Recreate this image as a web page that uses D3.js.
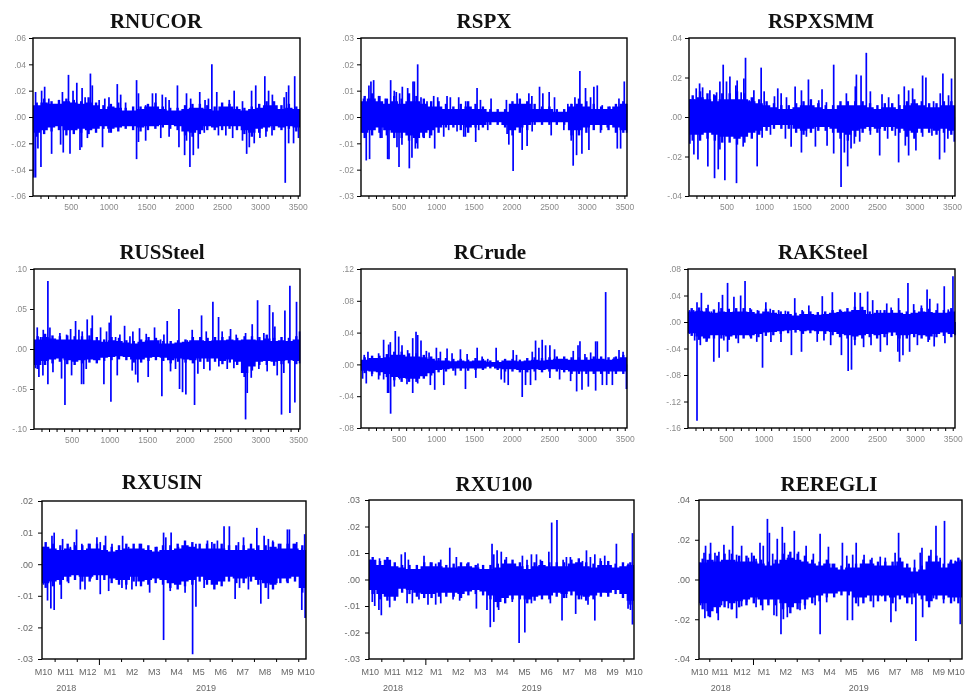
<!doctype html>
<html lang="en">
<head>
<meta charset="utf-8">
<title>Return series</title>
<script src="https://cdn.jsdelivr.net/npm/d3@7"></script>
<style>
html, body { margin: 0; background: #fff; }
svg { display: block; filter: blur(0.6px); }
.title { font: bold 21px "Liberation Serif", serif; fill: #111; text-anchor: middle; }
.axis text { font-family: "Liberation Sans", Arial, sans-serif; }
.axis path, .axis line { stroke: #000; }
</style>
</head>
<body>
<svg id="chart" width="967" height="693"></svg>
<script>
// series order, left to right and top to bottom
var titles = ["RNUCOR", "RSPX", "RSPXSMM", "RUSSteel", "RCrude", "RAKSteel", "RXUSIN", "RXU100", "REREGLI"];
var yTicks = [
  [.06, .04, .02, 0, -.02, -.04, -.06],
  [.03, .02, .01, 0, -.01, -.02, -.03],
  [.04, .02, 0, -.02, -.04],
  [.10, .05, 0, -.05, -.10],
  [.12, .08, .04, 0, -.04, -.08],
  [.08, .04, 0, -.04, -.08, -.12, -.16],
  [.02, .01, 0, -.01, -.02, -.03],
  [.03, .02, .01, 0, -.01, -.02, -.03],
  [.04, .02, 0, -.02, -.04]
];
var obsTicks = [100, 200, 300, 400, 500, 600, 700, 800, 900, 1000, 1100, 1200, 1300, 1400, 1500, 1600, 1700, 1800, 1900, 2000, 2100, 2200, 2300, 2400, 2500, 2600, 2700, 2800, 2900, 3000, 3100, 3200, 3300, 3400, 3500];
var monthTicks = [1, 2, 3, 4, 5, 6, 7, 8, 9, 10, 11, 12];
var monthLabels = ["M10", "M11", "M12", "M1", "M2", "M3", "M4", "M5", "M6", "M7", "M8", "M9", "M10"];
var yearLabels = ["2018", "2019"];
var yearAt = [1.53, 7.84];

// core of each series: upper and lower edge, evenly along the x range
var nucorHi = [.009,.011,.010,.010,.012,.011,.010,.011,.009,.006,.008,.007,.005,.005,.006,.008,.008,.006,.005,.005,.006,.007,.007,.006,.005,.008,.008,.006,.005,.006,.007,.009,.009,.006,.007,.006];
var nucorLo = [-.012,-.010,-.008,-.007,-.010,-.010,-.009,-.010,-.009,-.007,-.009,-.008,-.007,-.007,-.008,-.007,-.007,-.006,-.006,-.007,-.011,-.012,-.010,-.007,-.008,-.007,-.007,-.007,-.010,-.012,-.009,-.008,-.007,-.008,-.007,-.008];
var spxHi = [.006,.007,.006,.005,.006,.005,.006,.006,.005,.004,.004,.003,.003,.003,.004,.003,.003,.002,.002,.002,.005,.005,.005,.003,.003,.003,.002,.002,.004,.005,.004,.003,.003,.003,.004,.005];
var spxLo = [-.006,-.005,-.004,-.005,-.006,-.006,-.007,-.008,-.006,-.005,-.004,-.003,-.003,-.003,-.004,-.003,-.003,-.002,-.002,-.003,-.005,-.004,-.003,-.002,-.002,-.002,-.002,-.002,-.005,-.005,-.004,-.003,-.003,-.003,-.004,-.005];
var smmHi = [.009,.010,.009,.008,.009,.009,.009,.009,.008,.007,.006,.005,.004,.004,.005,.006,.006,.005,.004,.004,.006,.006,.006,.006,.005,.004,.005,.005,.004,.006,.007,.006,.005,.005,.006,.006];
var smmLo = [-.009,-.009,-.008,-.009,-.010,-.010,-.011,-.010,-.008,-.007,-.005,-.004,-.004,-.004,-.006,-.007,-.006,-.005,-.005,-.006,-.008,-.009,-.007,-.006,-.005,-.006,-.005,-.005,-.006,-.007,-.008,-.006,-.006,-.007,-.006,-.007];
var ussHi = [.012,.015,.013,.012,.012,.012,.012,.012,.011,.009,.011,.010,.008,.007,.009,.011,.011,.007,.007,.008,.009,.011,.011,.010,.011,.011,.012,.011,.012,.012,.011,.013,.010,.011,.010,.012];
var ussLo = [-.020,-.015,-.013,-.012,-.014,-.016,-.014,-.013,-.014,-.011,-.010,-.009,-.010,-.013,-.013,-.011,-.010,-.011,-.014,-.012,-.013,-.014,-.012,-.012,-.012,-.015,-.013,-.016,-.030,-.022,-.016,-.015,-.016,-.015,-.014,-.015];
var crudeHi = [.006,.008,.008,.009,.012,.012,.010,.010,.009,.007,.005,.005,.004,.005,.004,.005,.005,.003,.003,.005,.005,.004,.005,.006,.005,.006,.007,.007,.006,.006,.006,.007,.007,.006,.007,.009];
var crudeLo = [-.008,-.009,-.010,-.012,-.016,-.017,-.018,-.018,-.015,-.011,-.007,-.006,-.005,-.005,-.005,-.005,-.005,-.003,-.005,-.006,-.006,-.007,-.007,-.006,-.007,-.006,-.006,-.007,-.009,-.009,-.009,-.009,-.009,-.009,-.009,-.009];
var akHi = [.016,.017,.016,.014,.016,.015,.016,.016,.015,.013,.016,.014,.012,.012,.010,.012,.012,.011,.012,.014,.015,.016,.018,.018,.012,.014,.014,.014,.014,.012,.014,.016,.015,.014,.014,.016];
var akLo = [-.017,-.022,-.025,-.020,-.020,-.022,-.020,-.020,-.020,-.018,-.016,-.015,-.014,-.013,-.012,-.014,-.013,-.014,-.014,-.015,-.018,-.020,-.022,-.020,-.018,-.020,-.018,-.016,-.020,-.020,-.018,-.020,-.022,-.018,-.016,-.018];
var usinHi = [.0055,.005,.0045,.005,.0045,.0045,.005,.005,.0045,.004,.0045,.005,.005,.005,.0045,.004,.0045,.0045,.005,.006,.0055,.005,.005,.005,.005,.0045,.0045,.0045,.005,.0045,.0045,.0055,.005,.005,.005,.0045];
var usinLo = [-.006,-.0055,-.005,-.004,-.0035,-.004,-.004,-.0035,-.0035,-.0045,-.005,-.005,-.004,-.0055,-.005,-.0045,-.005,-.006,-.0065,-.0055,-.005,-.004,-.005,-.0065,-.0055,-.004,-.0045,-.0045,-.004,-.005,-.006,-.0065,-.0045,-.0045,-.004,-.0075];
var xuHi = [.0075,.0055,.0075,.005,.0045,.004,.004,.005,.005,.005,.0045,.0045,.005,.005,.0045,.004,.004,.0045,.006,.006,.005,.004,.005,.0055,.005,.005,.005,.006,.0065,.005,.0045,.0055,.0055,.0045,.005,.0055];
var xuLo = [-.004,-.0055,-.0065,-.0065,-.0035,-.004,-.005,-.0055,-.0055,-.005,-.005,-.005,-.0055,-.0045,-.004,-.0045,-.006,-.0085,-.007,-.006,-.006,-.0075,-.0065,-.006,-.006,-.005,-.0055,-.0045,-.006,-.0065,-.006,-.005,-.005,-.004,-.0055,-.008];
var ereHi = [.0085,.010,.009,.010,.010,.009,.009,.009,.008,.007,.008,.010,.011,.010,.009,.008,.007,.008,.006,.005,.006,.006,.008,.008,.007,.007,.007,.009,.006,.004,.005,.009,.009,.006,.008,.009];
var ereLo = [-.012,-.016,-.014,-.011,-.012,-.011,-.010,-.009,-.010,-.010,-.010,-.012,-.014,-.012,-.010,-.009,-.008,-.007,-.007,-.006,-.006,-.009,-.009,-.008,-.008,-.008,-.009,-.008,-.009,-.007,-.008,-.011,-.008,-.008,-.009,-.009];

// small teeth just outside the core, one between each pair of core steps
var nucorTeethUp = [.011,.014,.012,.013,.014,.013,.012,.015,.011,.009,.010,.011,.007,.008,.008,.010,.011,.008,.007,.007,.009,.010,.010,.009,.008,.011,.010,.008,.007,.008,.010,.012,.012,.009,.010,.008];
var nucorTeethDn = [-.015,-.013,-.011,-.010,-.014,-.013,-.012,-.013,-.012,-.009,-.012,-.011,-.009,-.010,-.011,-.010,-.009,-.008,-.009,-.010,-.014,-.015,-.013,-.010,-.010,-.010,-.009,-.010,-.013,-.015,-.012,-.011,-.010,-.010,-.009,-.011];
var spxTeethUp = [.008,.009,.008,.007,.008,.007,.009,.008,.007,.006,.006,.005,.004,.005,.006,.005,.004,.003,.003,.003,.006,.007,.006,.005,.004,.004,.003,.003,.005,.007,.006,.005,.004,.004,.005,.006];
var spxTeethDn = [-.008,-.007,-.006,-.007,-.008,-.008,-.009,-.010,-.008,-.007,-.006,-.004,-.004,-.005,-.006,-.004,-.004,-.003,-.003,-.004,-.007,-.006,-.005,-.003,-.003,-.003,-.003,-.003,-.007,-.007,-.006,-.005,-.005,-.005,-.006,-.006];
var smmTeethUp = [.011,.013,.012,.011,.012,.012,.013,.012,.010,.009,.008,.007,.006,.006,.007,.008,.009,.007,.006,.006,.008,.008,.008,.008,.007,.006,.007,.007,.006,.008,.009,.008,.007,.007,.008,.008];
var smmTeethDn = [-.012,-.012,-.011,-.012,-.013,-.013,-.014,-.013,-.011,-.009,-.007,-.006,-.006,-.006,-.008,-.009,-.008,-.007,-.007,-.008,-.011,-.012,-.010,-.008,-.007,-.008,-.007,-.007,-.008,-.010,-.011,-.008,-.008,-.009,-.008,-.009];
var ussTeethUp = [.016,.019,.017,.016,.017,.016,.016,.017,.015,.012,.015,.014,.011,.010,.012,.015,.014,.010,.010,.011,.012,.015,.015,.014,.015,.015,.016,.014,.016,.016,.015,.018,.014,.015,.014,.016];
var ussTeethDn = [-.025,-.020,-.018,-.016,-.019,-.020,-.018,-.017,-.018,-.015,-.014,-.013,-.014,-.017,-.017,-.015,-.014,-.015,-.018,-.016,-.017,-.018,-.016,-.016,-.016,-.019,-.017,-.020,-.035,-.027,-.020,-.020,-.021,-.019,-.018,-.019];
var crudeTeethUp = [.009,.011,.011,.013,.016,.016,.014,.014,.012,.010,.008,.008,.007,.007,.006,.008,.007,.005,.005,.007,.007,.006,.008,.009,.008,.009,.010,.010,.009,.009,.009,.010,.010,.009,.010,.012];
var crudeTeethDn = [-.011,-.012,-.014,-.016,-.020,-.022,-.022,-.022,-.018,-.014,-.010,-.009,-.008,-.008,-.008,-.007,-.007,-.005,-.007,-.009,-.009,-.010,-.010,-.009,-.010,-.009,-.009,-.010,-.012,-.012,-.012,-.012,-.012,-.012,-.012,-.012];
var akTeethUp = [.021,.022,.021,.019,.021,.020,.021,.021,.019,.017,.020,.018,.016,.016,.014,.016,.016,.015,.016,.018,.019,.021,.023,.023,.016,.018,.018,.018,.018,.016,.018,.021,.020,.018,.018,.021];
var akTeethDn = [-.021,-.027,-.030,-.025,-.025,-.027,-.025,-.025,-.025,-.023,-.021,-.020,-.018,-.017,-.016,-.018,-.017,-.018,-.018,-.020,-.023,-.025,-.027,-.025,-.023,-.025,-.023,-.021,-.025,-.025,-.023,-.025,-.027,-.023,-.021,-.023];
var usinTeethUp = [.007,.0065,.006,.0065,.006,.006,.0065,.0065,.006,.0055,.006,.0065,.0065,.0065,.006,.0055,.006,.006,.0065,.0075,.007,.0065,.0065,.0065,.0065,.006,.006,.006,.0065,.006,.006,.007,.0065,.0065,.0065,.006];
var usinTeethDn = [-.0075,-.007,-.0065,-.0055,-.005,-.0055,-.0055,-.005,-.005,-.006,-.0065,-.0065,-.0055,-.007,-.0065,-.006,-.0065,-.0075,-.008,-.007,-.0065,-.0055,-.0065,-.008,-.007,-.0055,-.006,-.006,-.0055,-.0065,-.0075,-.008,-.006,-.006,-.0055,-.009];
var xuTeethUp = [.0085,.007,.0085,.0065,.0055,.0055,.0055,.0065,.0065,.0065,.0055,.006,.0065,.0065,.0055,.0055,.0055,.006,.0075,.0075,.0065,.0055,.0065,.007,.0065,.0065,.0065,.0075,.008,.0065,.006,.007,.007,.006,.0065,.0065];
var xuTeethDn = [-.0055,-.0075,-.008,-.008,-.005,-.0055,-.0065,-.007,-.007,-.0065,-.0065,-.0065,-.007,-.006,-.0055,-.006,-.0075,-.0105,-.009,-.0075,-.0075,-.009,-.008,-.0075,-.0075,-.0065,-.007,-.006,-.0075,-.008,-.0075,-.0065,-.0065,-.0055,-.007,-.0095];
var ereTeethUp = [.0105,.013,.012,.013,.013,.012,.012,.012,.010,.009,.010,.013,.014,.013,.012,.010,.009,.010,.008,.007,.008,.008,.010,.010,.009,.009,.009,.011,.008,.006,.007,.012,.012,.008,.010,.011];
var ereTeethDn = [-.015,-.019,-.017,-.014,-.015,-.014,-.013,-.012,-.013,-.013,-.013,-.015,-.017,-.015,-.013,-.012,-.011,-.009,-.009,-.008,-.008,-.012,-.012,-.011,-.011,-.011,-.012,-.010,-.012,-.009,-.010,-.014,-.010,-.010,-.012,-.012];

// spikes: position, then value
var nucorUpX = [35,115,155,210,390,470,530,580,650,690,760,785,875,950,1005,1115,1160,1225,1370,1395,1490,1580,1625,1710,1755,1800,1910,2030,2085,2205,2275,2320,2365,2430,2595,2660,2770,2890,2945,3065,3115,3165,3320,3350,3380,3460];
var nucorUpY = [.019,.020,.023,.014,.019,.032,.020,.026,.022,.015,.033,.024,.013,.014,.015,.025,.017,.011,.028,.018,.009,.018,.018,.017,.015,.013,.024,.018,.014,.019,.013,.014,.040,.019,.013,.020,.012,.020,.024,.031,.020,.017,.015,.019,.024,.031];
var nucorDnX = [12,35,66,106,247,366,401,490,622,644,720,920,1005,1370,1395,1490,1690,1800,1930,2005,2030,2075,2120,2185,2265,2452,2550,2640,2770,2825,2860,2925,3000,3080,3160,3335,3380,3445,3510];
var nucorDnY = [-.046,-.046,-.024,-.038,-.028,-.021,-.027,-.028,-.025,-.023,-.016,-.023,-.012,-.032,-.019,-.018,-.016,-.015,-.023,-.029,-.018,-.038,-.029,-.024,-.012,-.014,-.014,-.016,-.018,-.028,-.023,-.020,-.016,-.015,-.014,-.050,-.020,-.020,-.016];
var spxUpX = [35,89,106,133,169,235,324,395,443,470,514,550,621,692,710,754,798,878,967,1020,1144,1188,1299,1392,1543,1588,1729,1933,2075,2231,2271,2373,2417,2501,2572,2749,2794,2843,2909,2984,3051,3095,3140,3206,3308,3428,3499,3530];
var spxUpY = [.007,.007,.012,.0135,.014,.008,.007,.014,.010,.0095,.009,.0115,.011,.0135,.0135,.020,.0075,.006,.008,.0075,.008,.0075,.0075,.006,.011,.0065,.007,.0065,.009,.009,.008,.0115,.009,.0095,.0075,.005,.005,.0075,.0175,.011,.0075,.0115,.012,.0045,.004,.007,.0135,.005];
var spxDnX = [27,71,115,257,279,355,373,479,506,545,643,678,723,754,825,914,980,1100,1166,1277,1366,1388,1525,1565,1685,1942,1965,2022,2142,2208,2275,2528,2696,2794,2820,2865,2936,3029,3184,3273,3406,3450,3530];
var spxDnY = [-.006,-.0165,-.016,-.008,-.008,-.016,-.016,-.0115,-.019,-.0105,-.0195,-.0155,-.012,-.012,-.0075,-.008,-.012,-.0075,-.005,-.0055,-.0075,-.0075,-.0095,-.005,-.005,-.0065,-.0105,-.0205,-.0125,-.011,-.0055,-.007,-.005,-.009,-.0185,-.0145,-.014,-.0125,-.006,-.004,-.012,-.012,-.006];
var smmUpX = [22,66,97,142,182,279,332,368,412,456,500,545,624,642,695,731,753,802,864,961,1001,1138,1182,1227,1298,1413,1497,1590,1727,1771,1829,1926,2095,2214,2228,2290,2360,2414,2569,2657,2790,2865,2923,2976,3109,3153,3255,3344,3379,3454,3494];
var smmUpY = [.009,.009,.0145,.017,.015,.0135,.0115,.0125,.018,.0265,.018,.0205,.016,.0185,.0125,.0195,.030,.0085,.0135,.025,.013,.0105,.0145,.012,.010,.0155,.0135,.019,.0085,.014,.0075,.0265,.012,.0155,.0215,.021,.0325,.013,.0115,.010,.0115,.0155,.0135,.0145,.021,.020,.008,.012,.022,.011,.0195];
var smmDnX = [13,66,120,252,341,390,412,478,633,722,908,974,1085,1284,1360,1497,1563,1683,1838,1926,2024,2068,2112,2157,2201,2272,2414,2538,2644,2746,2790,2879,2923,3020,3109,3233,3335,3401,3445,3530];
var smmDnY = [-.0135,-.019,-.0215,-.025,-.031,-.0265,-.0165,-.032,-.0335,-.015,-.025,-.0105,-.009,-.011,-.015,-.018,-.010,-.015,-.0145,-.0185,-.0355,-.018,-.025,-.016,-.0135,-.0125,-.009,-.0195,-.011,-.0095,-.023,-.0145,-.0195,-.017,-.010,-.0095,-.0215,-.018,-.011,-.0125];
var ussUpX = [44,88,124,185,212,344,433,486,552,596,640,706,759,773,883,962,998,1020,1082,1139,1201,1272,1311,1399,1488,1598,1678,1722,1766,1921,2031,2097,2221,2283,2371,2446,2494,2605,2680,2804,2892,2963,3046,3121,3166,3192,3325,3391,3479,3519];
var ussUpY = [.027,.015,.024,.085,.027,.020,.018,.025,.035,.024,.022,.037,.026,.042,.027,.022,.033,.042,.015,.018,.029,.016,.022,.026,.019,.027,.012,.018,.035,.050,.011,.024,.042,.022,.059,.040,.022,.025,.018,.020,.031,.061,.020,.055,.046,.028,.048,.079,.059,.022];
var ussDnX = [22,66,119,185,252,366,411,499,631,658,693,927,1020,1104,1302,1347,1377,1514,1695,1810,1876,1929,1969,2013,2128,2172,2252,2331,2450,2561,2649,2781,2804,2826,2879,2980,3090,3223,3280,3311,3391,3457,3519];
var ussDnY = [-.024,-.035,-.033,-.044,-.029,-.037,-.070,-.033,-.044,-.044,-.025,-.044,-.066,-.033,-.027,-.032,-.042,-.035,-.059,-.028,-.025,-.050,-.054,-.057,-.070,-.031,-.025,-.027,-.022,-.025,-.024,-.030,-.088,-.055,-.036,-.025,-.028,-.033,-.082,-.030,-.080,-.067,-.018];
var crudeUpX = [44,93,146,235,301,368,390,456,501,545,620,687,731,753,797,868,904,1001,1054,1143,1209,1320,1409,1542,1608,1683,1794,2020,2064,2273,2317,2361,2405,2450,2507,2569,2817,2880,2906,2972,3048,3114,3136,3247,3358,3424,3478];
var crudeUpY = [.012,.016,.007,.014,.031,.025,.028,.042,.035,.024,.018,.033,.041,.037,.030,.017,.015,.021,.016,.020,.014,.019,.013,.021,.010,.007,.021,.018,.012,.016,.030,.021,.031,.024,.024,.019,.017,.024,.029,.013,.015,.029,.029,.091,.009,.018,.016];
var crudeDnX = [22,71,146,235,301,354,368,394,443,514,611,687,753,921,979,1099,1254,1387,1524,1861,1905,1954,2140,2184,2250,2317,2507,2636,2782,2862,2933,3017,3114,3203,3260,3336,3522];
var crudeDnY = [-.018,-.024,-.015,-.019,-.019,-.036,-.036,-.062,-.028,-.019,-.025,-.036,-.024,-.026,-.032,-.026,-.014,-.031,-.017,-.019,-.023,-.026,-.041,-.026,-.026,-.020,-.017,-.019,-.021,-.034,-.032,-.028,-.033,-.026,-.026,-.026,-.031];
var akUpX = [22,75,120,178,266,311,408,457,524,608,697,755,821,919,1030,1088,1199,1288,1412,1510,1598,1776,1909,2029,2207,2278,2375,2442,2544,2628,2686,2784,2908,2984,3086,3161,3197,3299,3388,3441,3503];
var akUpY = [.018,.018,.030,.044,.026,.016,.030,.041,.059,.038,.040,.062,.021,.018,.030,.020,.018,.017,.036,.018,.025,.039,.045,.017,.045,.044,.046,.033,.018,.028,.022,.036,.059,.027,.025,.049,.035,.028,.054,.019,.069];
var akDnX = [22,89,120,164,253,342,413,475,524,666,821,910,986,1097,1230,1368,1501,1709,1798,1887,2029,2118,2162,2207,2322,2420,2544,2633,2775,2797,2842,2930,3033,3175,3255,3397,3530];
var akDnY = [-.018,-.028,-.149,-.035,-.028,-.060,-.054,-.028,-.045,-.032,-.022,-.030,-.069,-.030,-.030,-.050,-.045,-.030,-.028,-.035,-.050,-.074,-.072,-.035,-.038,-.035,-.045,-.035,-.045,-.060,-.050,-.045,-.035,-.030,-.037,-.032,-.020];
var usinUpX = [.50,.88,.98,1.36,1.71,1.89,1.99,2.23,2.53,2.91,3.06,3.30,3.59,4.07,4.34,4.83,5.17,5.62,5.92,6.02,6.26,6.59,7.05,7.38,7.90,8.10,8.35,8.65,8.89,9.30,9.53,10.13,10.46,10.65,10.85,11.11,11.51,11.60,11.78,11.93,12.16,12.29];
var usinUpY = [.0055,.009,.010,.008,.0055,.007,.011,.0065,.0065,.0085,.007,.009,.0065,.009,.0055,.0065,.004,.0055,.010,.0085,.010,.0055,.0055,.0065,.0075,.007,.0075,.012,.012,.007,.0085,.0115,.009,.008,.0075,.0065,.011,.011,.0065,.007,.005,.0095];
var usinDnX = [.50,.68,.83,.98,1.30,1.63,2.16,2.37,2.64,3.06,3.44,4.04,4.23,4.49,4.68,5.29,5.92,6.22,6.89,7.23,7.38,7.75,8.17,9.15,9.35,9.75,10.31,10.65,11.03,11.48,12.16,12.31];
var usinDnY = [-.0065,-.0115,-.014,-.0145,-.011,-.006,-.008,-.008,-.0045,-.0095,-.0085,-.0075,-.008,-.008,-.007,-.009,-.024,-.0085,-.009,-.0285,-.0135,-.0075,-.006,-.011,-.0075,-.008,-.0125,-.011,-.006,-.0055,-.0145,-.017];
var xuUpX = [.50,.70,.92,1.38,1.65,1.91,2.08,2.23,2.62,2.94,3.23,3.47,3.70,4.11,4.41,4.89,5.39,5.62,6.03,6.11,6.26,6.45,6.68,6.91,7.41,7.62,7.82,8.05,8.23,8.61,8.74,8.98,9.26,9.41,9.59,10.14,10.32,10.50,10.70,10.95,11.15,11.68,11.98,12.21,12.41];
var xuUpY = [.0075,.0055,.008,.006,.0045,.0095,.0103,.0075,.005,.009,.0065,.006,.0075,.012,.0085,.006,.006,.0055,.0135,.0095,.011,.0105,.0085,.005,.009,.0075,.0095,.0095,.0075,.0105,.0215,.0225,.0075,.0085,.0085,.007,.011,.0085,.0095,.008,.009,.0135,.006,.006,.0175];
var xuDnX = [.59,.70,.89,1,1.38,2.17,2.41,2.71,3.12,3.47,3.70,4.26,4.56,5.32,5.62,5.80,5.95,6.11,6.33,6.95,7.26,7.52,7.82,8.68,9.21,9.41,9.83,10.09,10.39,10.70,11.23,12.21,12.32,12.41];
var xuDnY = [-.0085,-.010,-.0115,-.0135,-.0105,-.009,-.009,-.0075,-.0095,-.0095,-.009,-.0075,-.008,-.011,-.0055,-.0115,-.018,-.016,-.0115,-.0085,-.024,-.020,-.009,-.009,-.0155,-.007,-.013,-.0075,-.0095,-.0155,-.005,-.011,-.0115,-.017];
var ereUpX = [.57,.76,.83,1.06,1.26,1.44,1.67,1.92,2.07,2.25,2.48,2.79,2.94,3.14,3.32,3.47,3.66,3.75,3.90,4.11,4.34,4.44,4.62,4.89,5.08,5.43,5.76,6.07,6.45,6.63,7.09,7.29,7.56,7.72,8.08,8.44,8.82,9.05,9.50,9.66,10.04,10.39,10.65,10.73,11.14,11.37,11.56,11.76,12.02,12.25,12.48];
var ereUpY = [.0085,.0135,.017,.0185,.0135,.014,.0175,.015,.027,.0125,.017,.011,.0135,.0105,.0185,.017,.0305,.0235,.013,.0205,.0265,.0185,.0125,.0245,.014,.017,.013,.023,.0165,.008,.0185,.012,.0125,.0185,.0125,.011,.0115,.011,.0135,.0235,.004,.010,.0135,.016,.015,.027,.011,.0295,.009,.0095,.010];
var ereDnX = [.60,.80,.95,1.41,1.56,1.87,2.02,2.25,2.48,2.71,3.14,3.44,3.70,3.96,4.08,4.28,4.39,4.57,4.88,5.15,5.38,5.84,6.07,6.37,6.76,7.32,7.55,7.82,8.51,8.89,9.31,9.53,9.89,10.27,10.45,10.76,11.26,11.72,12.21,12.48];
var ereDnY = [-.013,-.0195,-.0185,-.0205,-.013,-.0145,-.015,-.0195,-.0135,-.0115,-.014,-.0155,-.012,-.018,-.0185,-.0275,-.020,-.019,-.0105,-.0155,-.015,-.013,-.0275,-.0115,-.006,-.0205,-.0205,-.0135,-.014,-.0085,-.0215,-.016,-.0075,-.0125,-.031,-.019,-.0095,-.012,-.011,-.0225];

// layout of the nine frames
var frames = [
  [33, 38, 300, 196], [361, 38, 627, 196], [689, 38, 955, 196],
  [34, 269, 300, 429], [361, 269, 627, 428], [688, 269, 955, 428],
  [42, 501, 306, 659], [369, 500, 634, 659], [699, 500, 962, 659]
];
var titlePos = [[156, 28], [484, 28], [821, 28], [162, 259], [490, 259], [823, 259], [162, 489], [494, 491], [829, 491]];
var xDomains = [[1, 3530], [1, 3535], [1, 3540], [1, 3525], [1, 3530], [1, 3530], [.43, 12.35], [.44, 12.48], [.53, 12.56]];

var bands = [[nucorHi, nucorLo], [spxHi, spxLo], [smmHi, smmLo], [ussHi, ussLo], [crudeHi, crudeLo], [akHi, akLo], [usinHi, usinLo], [xuHi, xuLo], [ereHi, ereLo]];
var teeth = [[nucorTeethUp, nucorTeethDn], [spxTeethUp, spxTeethDn], [smmTeethUp, smmTeethDn], [ussTeethUp, ussTeethDn], [crudeTeethUp, crudeTeethDn], [akTeethUp, akTeethDn], [usinTeethUp, usinTeethDn], [xuTeethUp, xuTeethDn], [ereTeethUp, ereTeethDn]];
var spikes = [
  [nucorUpX, nucorUpY, nucorDnX, nucorDnY], [spxUpX, spxUpY, spxDnX, spxDnY], [smmUpX, smmUpY, smmDnX, smmDnY],
  [ussUpX, ussUpY, ussDnX, ussDnY], [crudeUpX, crudeUpY, crudeDnX, crudeDnY], [akUpX, akUpY, akDnX, akDnY],
  [usinUpX, usinUpY, usinDnX, usinDnY], [xuUpX, xuUpY, xuDnX, xuDnY], [ereUpX, ereUpY, ereDnX, ereDnY]
];

var svg = d3.select("#chart");
var blue = "#0000ff";

// .05 -> ".05", -.05 -> "-.05", 0 -> ".00"
function yLabel(v) {
  return d3.format(".2f")(v).replace("\u2212", "-").replace("0.", ".");
}

titles.forEach(function(name, i) {
  var f = frames[i];
  var dated = i >= 6;
  var x = d3.scaleLinear().domain(xDomains[i]).range([f[0], f[2]]);
  var ticks = yTicks[i];
  var y = d3.scaleLinear().domain([d3.min(ticks), d3.max(ticks)]).range([f[3], f[1]]);
  var g = svg.append("g");

  g.append("text").attr("class", "title")
    .attr("x", titlePos[i][0]).attr("y", titlePos[i][1]).text(name);

  // solid core of the series
  var hi = bands[i][0], lo = bands[i][1];
  var n = hi.length;
  var d0 = xDomains[i][0], d1 = xDomains[i][1];
  var area = d3.area()
    .curve(d3.curveStepAfter)
    .x(function(d, k) { return x(d0 + (d1 - d0) * k / n); })
    .y0(function(d, k) { return y(lo[Math.min(k, n - 1)]); })
    .y1(function(d, k) { return y(hi[Math.min(k, n - 1)]); });
  g.append("path").datum(d3.range(n + 1)).attr("fill", blue).attr("d", area);

  // teeth along the core
  teeth[i].forEach(function(vals) {
    g.append("g").selectAll("line")
      .data(vals)
      .enter().append("line")
      .attr("x1", function(d, k) { return x(d0 + (d1 - d0) * (k + .5) / n); })
      .attr("x2", function(d, k) { return x(d0 + (d1 - d0) * (k + .5) / n); })
      .attr("y1", y(0))
      .attr("y2", function(d) { return y(d); })
      .attr("stroke", blue)
      .attr("stroke-width", 2.4);
  });

  // spikes up and down
  var s = spikes[i];
  [[s[0], s[1]], [s[2], s[3]]].forEach(function(pair) {
    g.append("g").selectAll("line")
      .data(pair[0])
      .enter().append("line")
      .attr("x1", function(d) { return x(d); })
      .attr("x2", function(d) { return x(d); })
      .attr("y1", y(0))
      .attr("y2", function(d, k) { return y(pair[1][k]); })
      .attr("stroke", blue)
      .attr("stroke-width", 1.7);
  });

  // frame
  g.append("rect")
    .attr("x", f[0]).attr("y", f[1])
    .attr("width", f[2] - f[0]).attr("height", f[3] - f[1])
    .attr("fill", "none").attr("stroke", "#000").attr("stroke-width", 1.4);

  // y axis
  var yAxis = d3.axisLeft(y).tickValues(ticks).tickFormat(yLabel).tickSize(4).tickPadding(dated ? 5 : 3);
  var ya = g.append("g").attr("class", "axis").attr("transform", "translate(" + f[0] + ",0)").call(yAxis);
  ya.selectAll("text").attr("font-size", dated ? 9 : 8.5).attr("fill", dated ? "#666" : "#8a8a8a");
  ya.select(".domain").remove();

  // x axis
  var xAxis = d3.axisBottom(x).tickSize(3).tickPadding(dated ? 7 : 5);
  if (dated) {
    xAxis.tickValues(monthTicks).tickFormat("");
  } else {
    xAxis.tickValues(obsTicks).tickFormat(function(d) { return d % 500 === 0 ? d : ""; });
  }
  var xa = g.append("g").attr("class", "axis").attr("transform", "translate(0," + f[3] + ")").call(xAxis);
  xa.select(".domain").remove();
  xa.selectAll("text").attr("font-size", 8.5).attr("fill", "#8a8a8a");

  if (dated) {
    // month names sit between the ticks, years below them
    xa.selectAll(".tick line").filter(function(d) { return d === 3; }).attr("y2", 6);
    g.append("g").selectAll("text")
      .data(monthLabels)
      .enter().append("text")
      .attr("x", function(d, k) { return Math.min(x(Math.min(Math.max(k + .5, d0 + .03), d1)), 956); })
      .attr("y", f[3] + 16)
      .attr("text-anchor", "middle")
      .attr("font-family", "Liberation Sans, Arial, sans-serif")
      .attr("font-size", 9)
      .attr("fill", "#666")
      .text(function(d) { return d; });
    g.append("g").selectAll("text")
      .data(yearLabels)
      .enter().append("text")
      .attr("x", function(d, k) { return x(yearAt[k]); })
      .attr("y", f[3] + 32)
      .attr("text-anchor", "middle")
      .attr("font-family", "Liberation Sans, Arial, sans-serif")
      .attr("font-size", 9)
      .attr("fill", "#666")
      .text(function(d) { return d; });
  }
});
</script>
</body>
</html>
